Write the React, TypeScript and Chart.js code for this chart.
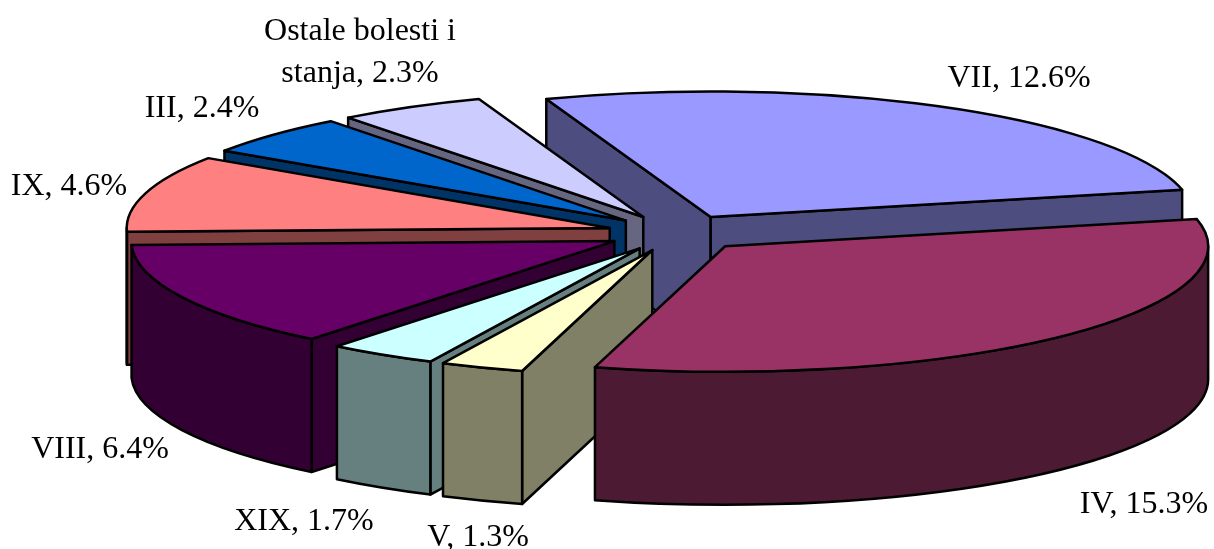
import React, { useEffect, useRef } from "react";
import { Chart, registerables } from "chart.js";

Chart.register(...registerables);

const categories = ["VII", "IV", "V", "XIX", "VIII", "IX", "III", "Ostale bolesti i stanja"];
const values = [12.6, 15.3, 1.3, 1.7, 6.4, 4.6, 2.4, 2.3];
const topColors = ["#9999FF", "#993366", "#FFFFCC", "#CCFFFF", "#660066", "#FF8080", "#0066CC", "#CCCCFF"];
const wallColors = ["#4D4D80", "#4D1A33", "#808066", "#668080", "#330033", "#804040", "#003366", "#666680"];
const paintOrder = [0, 7, 6, 5, 4, 3, 2, 1];
const labelLines = [
  ["VII, 12.6%"],
  ["IV, 15.3%"],
  ["V, 1.3%"],
  ["XIX, 1.7%"],
  ["VIII, 6.4%"],
  ["IX, 4.6%"],
  ["III, 2.4%"],
  ["Ostale bolesti i", "stanja, 2.3%"],
];
const labelAnchors = [
  [1019, 79],
  [1144, 505],
  [478, 538],
  [304, 522],
  [100, 450],
  [69, 187],
  [202, 109],
  [360, 32],
];

const SQUASH = 0.26;
const DEPTH = 133;
const EXPLODE = 70;
const RADIUS = 483;
const LINE = "#000000";

const pie3d = {
  id: "pie3d",
  beforeDatasetsDraw(chart: any) {
    const { ctx } = chart;
    const arcs = chart.getDatasetMeta(0).data;
    ctx.save();
    ctx.lineWidth = 2.5;
    ctx.lineJoin = "round";
    ctx.strokeStyle = LINE;
    const b = (r: number) => r * SQUASH;
    for (const i of paintOrder) {
      const arc = arcs[i];
      const { x, y, startAngle: s, endAngle: e, outerRadius: r } = arc;
      const mid = (s + e) / 2;
      const ax = x + Math.cos(mid) * EXPLODE;
      const ay = y + Math.sin(mid) * EXPLODE * SQUASH;
      const px = (t: number) => ax + Math.cos(t) * r;
      const py = (t: number) => ay + Math.sin(t) * b(r);

      // flat inner walls, only those that face the viewer
      const visibleEdges: number[] = [];
      if (Math.cos(s) < 0) visibleEdges.push(s);
      if (Math.cos(e) > 0) visibleEdges.push(e);
      for (const t of visibleEdges) {
        ctx.beginPath();
        ctx.moveTo(ax, ay);
        ctx.lineTo(px(t), py(t));
        ctx.lineTo(px(t), py(t) + DEPTH);
        ctx.lineTo(ax, ay + DEPTH);
        ctx.closePath();
        ctx.fillStyle = wallColors[i];
        ctx.fill();
        ctx.stroke();
      }

      // curved outer wall: only the part that faces the viewer
      for (const shift of [0, 2 * Math.PI]) {
        const a0 = Math.max(s, shift);
        const a1 = Math.min(e, Math.PI + shift);
        if (a1 > a0) {
          ctx.beginPath();
          ctx.ellipse(ax, ay, r, b(r), 0, a0, a1);
          ctx.lineTo(px(a1), py(a1) + DEPTH);
          ctx.ellipse(ax, ay + DEPTH, r, b(r), 0, a1, a0, true);
          ctx.closePath();
          ctx.fillStyle = wallColors[i];
          ctx.fill();
          ctx.stroke();
        }
      }

      // top face drawn by the library's own arc element
      ctx.save();
      ctx.translate(ax, ay);
      ctx.scale(1, SQUASH);
      ctx.translate(-x, -y);
      arc.draw(ctx);
      ctx.restore();

      ctx.beginPath();
      ctx.moveTo(ax, ay);
      ctx.ellipse(ax, ay, r, b(r), 0, s, e);
      ctx.closePath();
      ctx.stroke();
    }
    ctx.restore();
    return false;
  },
  afterDraw(chart: any) {
    const { ctx } = chart;
    ctx.save();
    ctx.fillStyle = "#000000";
    ctx.font = '32px "Liberation Serif"';
    ctx.textAlign = "center";
    ctx.textBaseline = "middle";
    labelLines.forEach((lines, i) => {
      lines.forEach((text, j) => {
        ctx.fillText(text, labelAnchors[i][0], labelAnchors[i][1] + j * 42);
      });
    });
    ctx.restore();
  },
};

export default function App() {
  const ref = useRef<HTMLCanvasElement>(null);
  useEffect(() => {
    const chart = new Chart(ref.current!, {
      type: "pie",
      data: {
        labels: categories,
        datasets: [
          {
            data: values,
            backgroundColor: topColors,
            borderWidth: 0,
            hoverOffset: 0,
          },
        ],
      },
      options: {
        animation: false,
        responsive: false,
        rotation: -19.9,
        radius: RADIUS,
        layout: { padding: { left: 140, right: 0, top: 0, bottom: 83 } },
        plugins: { legend: { display: false }, tooltip: { enabled: false } },
      } as any,
      plugins: [pie3d],
    });
    return () => chart.destroy();
  }, []);
  return (
    <div style={{ position: "absolute", left: 0, top: 0, background: "#fff" }}>
      <canvas ref={ref} width={1214} height={549} style={{ display: "block" }} />
    </div>
  );
}
